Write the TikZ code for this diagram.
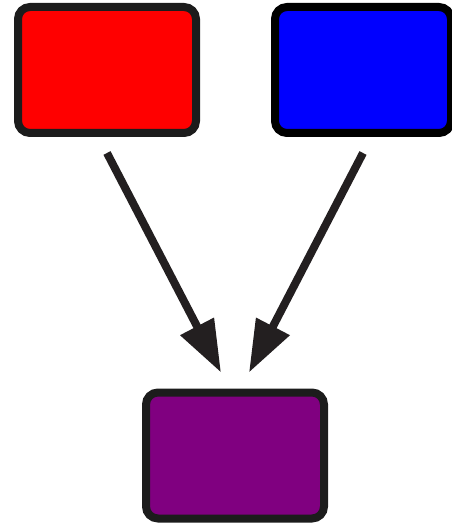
\documentclass[tikz,border=0pt]{standalone}
\usepackage{xcolor}
\usetikzlibrary{arrows.meta,calc}

\definecolor{edgegray}{RGB}{28,28,28}
\definecolor{arrowgray}{RGB}{35,31,32}
\definecolor{boxpurple}{RGB}{128,0,128}

\begin{document}
\begin{tikzpicture}[x=0.75pt,y=0.75pt,yscale=-1,xscale=1,
  colorbox/.style={draw=edgegray,line width=6pt,rounded corners=9pt,
    minimum width=133.5pt,minimum height=94.5pt,inner sep=0pt},
  mixarrow/.style={draw=arrowgray,line width=6pt,
    -{Triangle[length=39pt,width=27pt]}}]
%set diagram left start at 0, and has height of 524
\useasboundingbox (0,0) rectangle (452,524);

%Rounded Rect red
\node (red) [colorbox,fill=red] at (107,70) {};
%Rounded Rect blue
\node (blue) [colorbox,draw=black,fill=blue,minimum width=132pt] at (363,70) {};
%Rounded Rect purple
\node (purple) [colorbox,fill=boxpurple] at (235,455.5) {};

%Straight Lines
\draw [mixarrow] ($(red.south)+(0,16)$) -- ($(purple.north)+(-14,-16)$);
\draw [mixarrow] ($(blue.south)+(0,16)$) -- ($(purple.north)+(14,-16)$);

\end{tikzpicture}
\end{document}
